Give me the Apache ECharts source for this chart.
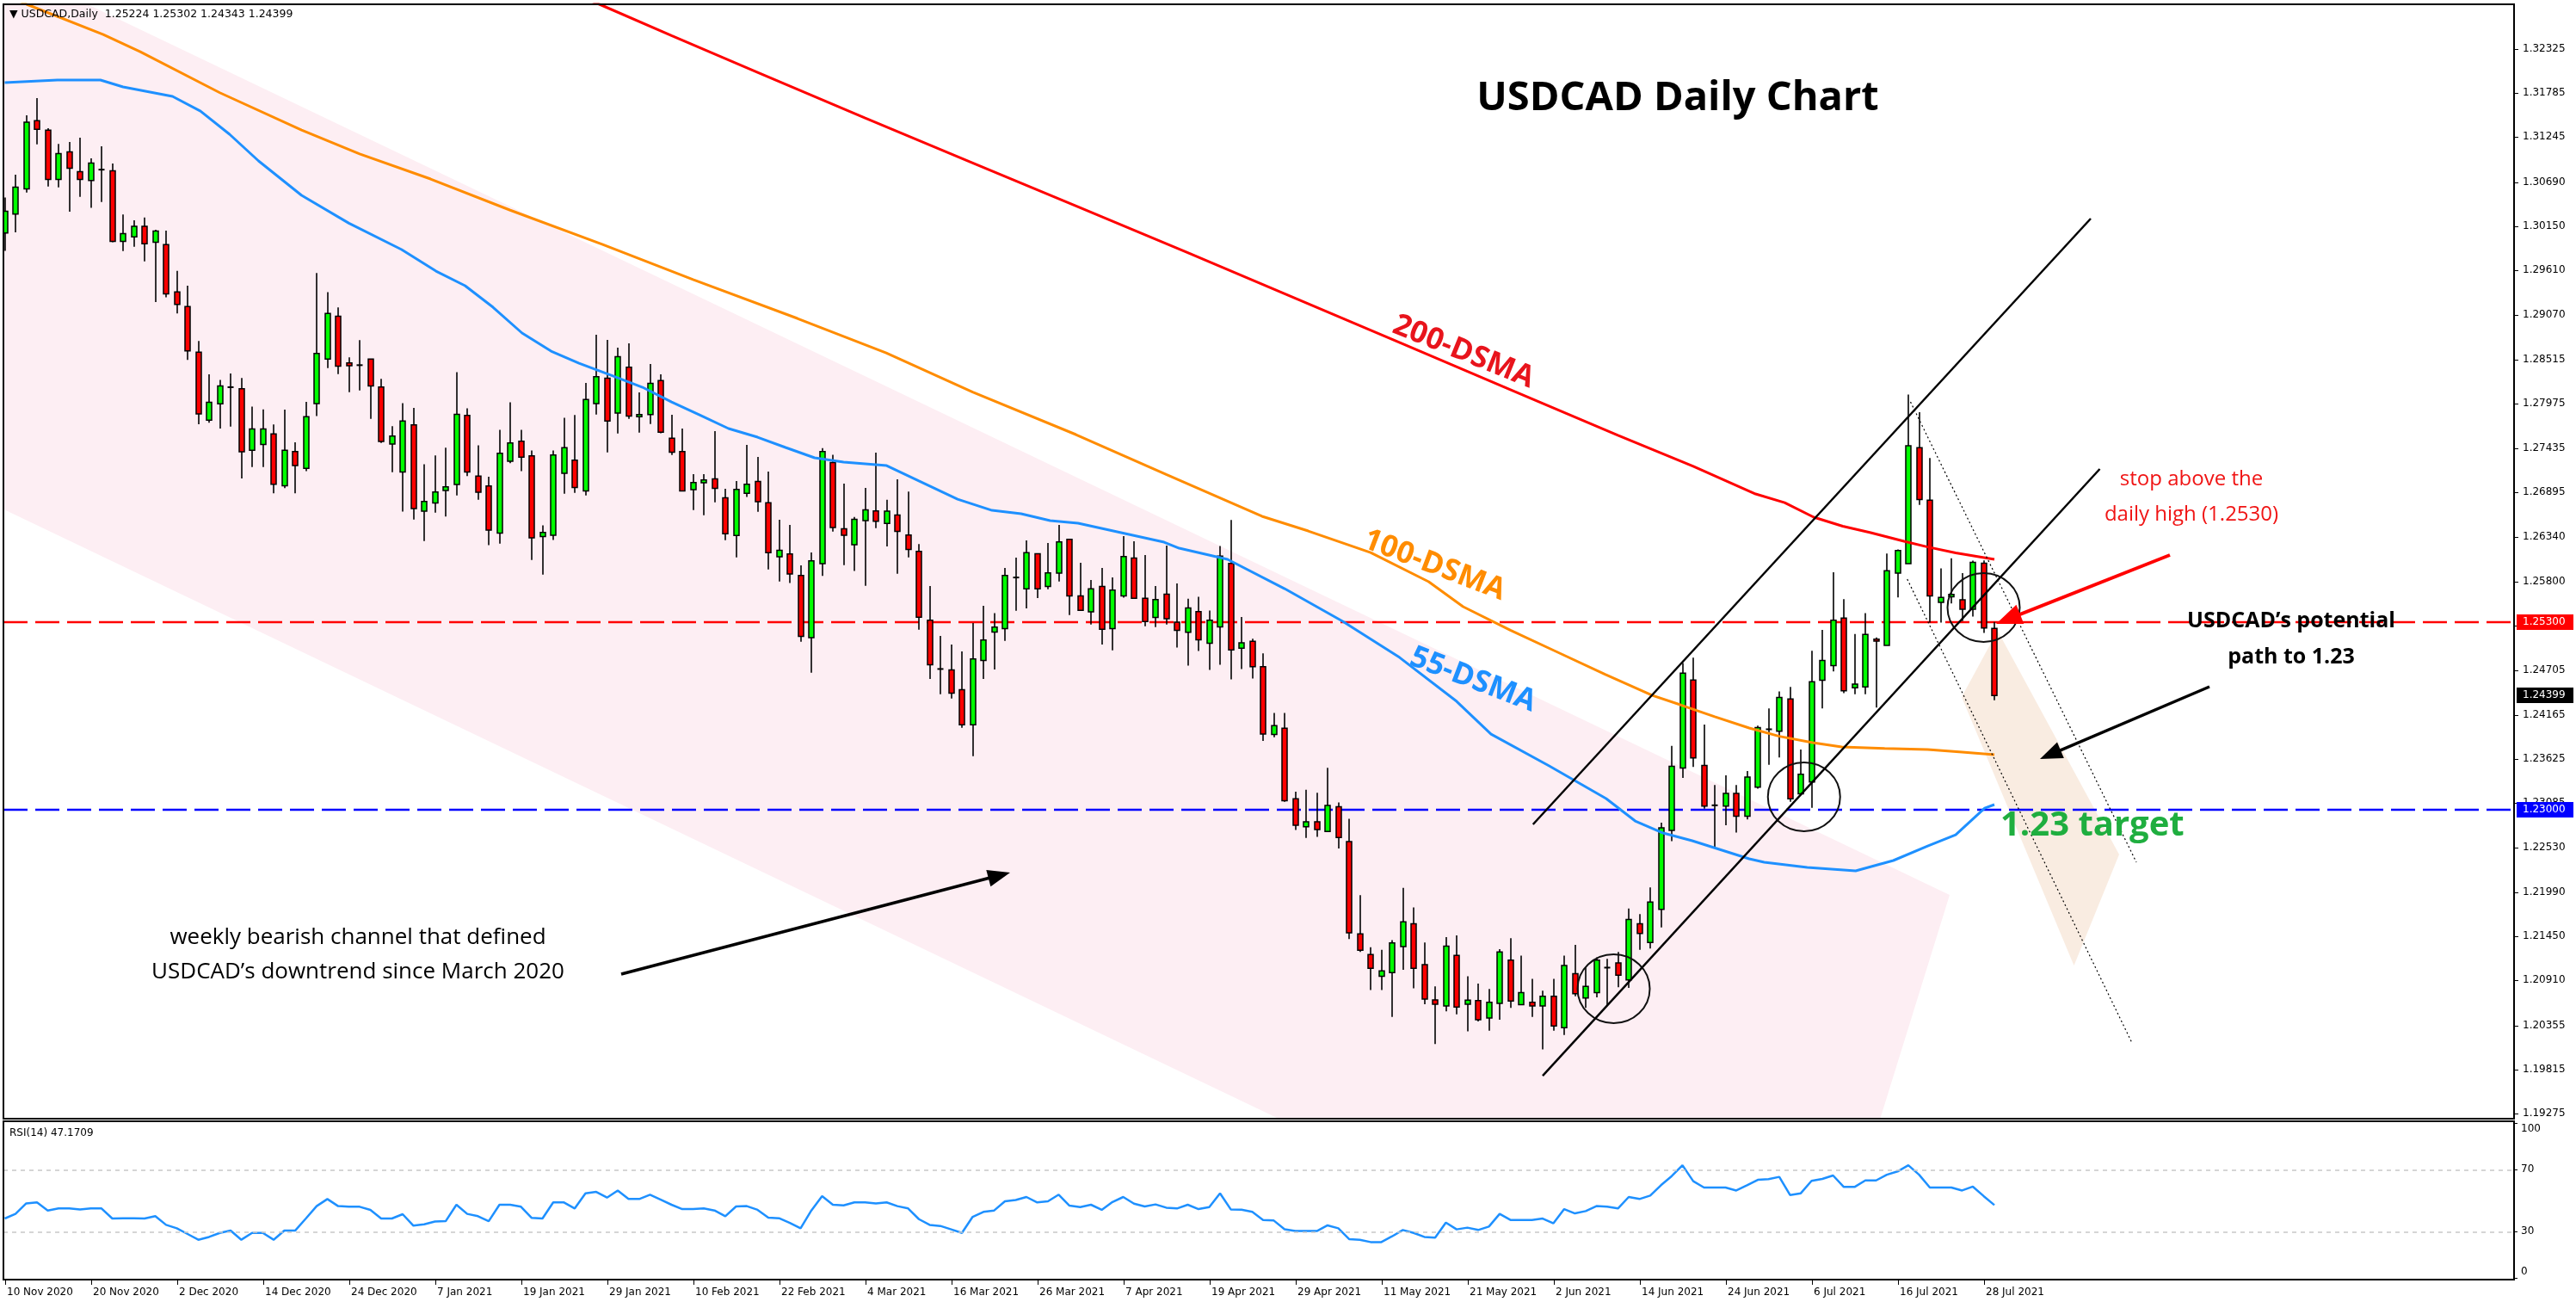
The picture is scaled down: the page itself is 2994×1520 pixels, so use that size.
<!DOCTYPE html>
<html><head><meta charset="utf-8">
<script src="https://cdn.jsdelivr.net/npm/echarts/dist/echarts.min.js"></script>
<style>html,body{margin:0;padding:0;background:#fff}#c{width:2994px;height:1520px}</style>
</head><body><div id="c"></div>
<script>
// ---------------- DATA ----------------
const dateTickLabels = ['10 Nov 2020','20 Nov 2020','2 Dec 2020','14 Dec 2020','24 Dec 2020','7 Jan 2021','19 Jan 2021','29 Jan 2021','10 Feb 2021','22 Feb 2021','4 Mar 2021','16 Mar 2021','26 Mar 2021','7 Apr 2021','19 Apr 2021','29 Apr 2021','11 May 2021','21 May 2021','2 Jun 2021','14 Jun 2021','24 Jun 2021','6 Jul 2021','16 Jul 2021','28 Jul 2021'];
const dateTickBars = [0,8,16,24,32,40,48,56,64,72,80,88,96,104,112,120,128,136,144,152,160,168,176,184];
const priceTicks = ['1.32325','1.31785','1.31245','1.30690','1.30150','1.29610','1.29070','1.28515','1.27975','1.27435','1.26895','1.26340','1.25800','1.25260','1.24705','1.24165','1.23625','1.23085','1.22530','1.21990','1.21450','1.20910','1.20355','1.19815','1.19275'];
const rsiTicks = [100,70,30,0];
const rsiLevels = [70,30];
const levelPrices = [1.2530, 1.2300];

// OHLC, one row per daily bar (bar 0 = 10 Nov 2020 ... bar 185 = 29 Jul 2021)
const opens = [1.30070,1.30302,1.30611,1.31447,1.31330,1.30727,1.31065,1.30822,1.30713,1.30847,
1.30833,1.29968,1.30022,1.30153,1.29957,1.29928,1.29347,1.29169,1.28609,1.27777,
1.27977,1.28180,1.28162,1.27407,1.27479,1.27606,1.26971,1.27392,1.27184,1.27978,
1.28524,1.29051,1.28478,1.28450,1.28524,1.28182,1.27482,1.27141,1.27718,1.26659,
1.26761,1.26913,1.26987,1.27834,1.27089,1.26969,1.26392,1.27271,1.27518,1.27338,
1.26350,1.26364,1.27124,1.27286,1.26909,1.27978,1.28291,1.27862,1.28425,1.27817,
1.27845,1.28260,1.27553,1.27391,1.26923,1.27008,1.27057,1.26825,1.26361,1.26878,
1.27025,1.26762,1.26100,1.26136,1.25872,1.25109,1.26016,1.27257,1.26445,1.26248,
1.26544,1.26663,1.26509,1.26614,1.26368,1.26168,1.25323,1.24725,1.24715,1.24472,
1.24040,1.24831,1.25179,1.25221,1.25847,1.25707,1.26139,1.25738,1.25900,1.26315,
1.25622,1.25425,1.25738,1.25221,1.25622,1.26086,1.25591,1.25358,1.25643,1.25300,
1.25176,1.25429,1.25042,1.25242,1.26019,1.24980,1.25065,1.24754,1.23923,1.23999,
1.23133,1.22791,1.22853,1.22734,1.23036,1.22609,1.21477,1.21224,1.20958,1.21002,
1.21322,1.21601,1.21100,1.20669,1.20594,1.21215,1.20616,1.20660,1.20447,1.20625,
1.21157,1.20611,1.20638,1.20594,1.20714,1.20327,1.20989,1.20691,1.20758,1.21064,
1.21122,1.20913,1.21601,1.21371,1.21779,1.22747,1.23511,1.24590,1.23542,1.23054,
1.23045,1.23200,1.22920,1.23275,1.23986,1.23961,1.24357,1.23194,1.23340,1.24586,
1.24767,1.25349,1.24495,1.24506,1.25091,1.25015,1.25901,1.26017,1.27438,1.26795,
1.25541,1.25610,1.25574,1.25458,1.26021,1.25224];
const highs = [1.30506,1.30785,1.31512,1.31723,1.31356,1.31163,1.31185,1.31239,1.30985,1.31134,
1.30923,1.30298,1.30226,1.30259,1.30110,1.30099,1.29605,1.29423,1.28747,1.28337,
1.28268,1.28348,1.28293,1.27941,1.27908,1.27723,1.27904,1.27505,1.27999,1.29579,
1.29346,1.29157,1.28545,1.28756,1.28524,1.28281,1.27701,1.27985,1.27926,1.27236,
1.27342,1.27437,1.28365,1.27922,1.27468,1.27082,1.27658,1.27996,1.27658,1.27405,
1.26487,1.27405,1.27806,1.27838,1.28232,1.28823,1.28759,1.28664,1.28717,1.28116,
1.28464,1.28337,1.27841,1.27672,1.27113,1.27113,1.27641,1.26934,1.27029,1.27472,
1.27324,1.27145,1.26554,1.26491,1.25995,1.26153,1.27433,1.27352,1.26997,1.26589,
1.26944,1.27377,1.26800,1.27050,1.26900,1.26256,1.25742,1.25130,1.25024,1.24940,
1.25288,1.25499,1.25411,1.25963,1.26090,1.26301,1.26139,1.26269,1.26491,1.26315,
1.26027,1.25816,1.25963,1.25847,1.26354,1.26290,1.26121,1.25742,1.26238,1.25775,
1.25588,1.25611,1.25442,1.26232,1.26552,1.25362,1.25096,1.24918,1.24185,1.24185,
1.23222,1.23244,1.23208,1.23515,1.23089,1.22889,1.21952,1.21313,1.21282,1.21402,
1.22041,1.21801,1.21371,1.20833,1.21437,1.21459,1.20958,1.20869,1.20802,1.21291,
1.21424,1.21211,1.20927,1.20780,1.20927,1.21211,1.21344,1.21069,1.21189,1.21171,
1.21255,1.21788,1.21721,1.22046,1.22840,1.23782,1.24798,1.24865,1.24044,1.23302,
1.23422,1.23302,1.23475,1.24030,1.24241,1.24451,1.24506,1.23739,1.24949,1.25203,
1.25912,1.25581,1.25153,1.25411,1.25113,1.26141,1.26192,1.28090,1.27874,1.27311,
1.25959,1.26083,1.25901,1.26054,1.26057,1.25302];
const lows = [1.29852,1.30077,1.30567,1.31156,1.30640,1.30629,1.30331,1.30513,1.30378,1.30451,
1.29957,1.29848,1.29902,1.29721,1.29223,1.29281,1.29085,1.28515,1.27726,1.27745,
1.27672,1.27697,1.27061,1.27200,1.27200,1.26880,1.26942,1.26880,1.27152,1.27827,
1.28414,1.28341,1.28119,1.28140,1.27792,1.27497,1.27138,1.26656,1.26558,1.26294,
1.26642,1.26593,1.26853,1.27089,1.26800,1.26244,1.26262,1.27247,1.27152,1.26062,
1.25882,1.26308,1.26874,1.26885,1.26853,1.27845,1.27381,1.27613,1.27792,1.27623,
1.27729,1.27616,1.27349,1.26902,1.26674,1.26610,1.26769,1.26304,1.26093,1.26835,
1.26653,1.25946,1.25798,1.25780,1.25059,1.24680,1.25865,1.26410,1.25998,1.25928,
1.25745,1.26452,1.26227,1.25893,1.26094,1.25207,1.24602,1.24416,1.24363,1.24004,
1.23656,1.24602,1.24718,1.25070,1.25439,1.25467,1.25594,1.25703,1.25798,1.25386,
1.25443,1.25270,1.25024,1.24954,1.25601,1.25591,1.25249,1.25239,1.25270,1.24989,
1.24767,1.24945,1.24714,1.24776,1.24598,1.24723,1.24607,1.23844,1.23888,1.23098,
1.22751,1.22653,1.22667,1.22734,1.22525,1.21415,1.21255,1.20789,1.20789,1.20460,
1.21038,1.20811,1.20616,1.20127,1.20527,1.20491,1.20283,1.20403,1.20292,1.20425,
1.20571,1.20611,1.20460,1.20061,1.20292,1.20238,1.20714,1.20571,1.20700,1.20594,
1.20824,1.20815,1.21282,1.21299,1.21557,1.22614,1.23391,1.23524,1.23013,1.22543,
1.22809,1.22720,1.22880,1.23257,1.23550,1.23641,1.23096,1.23194,1.23024,1.24241,
1.24695,1.24430,1.24415,1.24415,1.24252,1.25015,1.25603,1.26017,1.26737,1.25294,
1.25294,1.25530,1.25312,1.25367,1.25167,1.24343];
const closes = [1.30338,1.30633,1.31428,1.31341,1.30727,1.31043,1.30865,1.30727,1.30927,1.30847,
1.29968,1.30062,1.30153,1.29939,1.30095,1.29325,1.29194,1.28624,1.27853,1.27995,
1.28195,1.28180,1.27388,1.27668,1.27668,1.26989,1.27407,1.27218,1.27817,1.28594,
1.29083,1.28439,1.28443,1.28450,1.28196,1.27514,1.27581,1.27764,1.26691,1.26779,
1.26895,1.26958,1.27848,1.27141,1.26892,1.26427,1.27370,1.27497,1.27321,1.26332,
1.26399,1.27349,1.27437,1.26951,1.28028,1.28309,1.27764,1.28555,1.27827,1.27845,
1.28228,1.27627,1.27384,1.26909,1.27011,1.27043,1.26941,1.26382,1.26927,1.26990,
1.26776,1.26150,1.26181,1.25889,1.25126,1.26051,1.27391,1.26459,1.26364,1.26561,
1.26677,1.26536,1.26660,1.26413,1.26192,1.25359,1.24778,1.24725,1.24430,1.24040,
1.24849,1.25081,1.25239,1.25872,1.25847,1.26150,1.25707,1.25903,1.26283,1.25622,
1.25443,1.25707,1.25211,1.25692,1.26104,1.25591,1.25306,1.25576,1.25341,1.25198,
1.25473,1.25082,1.25322,1.26108,1.24958,1.25046,1.24754,1.23928,1.24030,1.23111,
1.22809,1.22853,1.22756,1.23053,1.22658,1.21490,1.21277,1.21055,1.21024,1.21366,
1.21624,1.21055,1.20678,1.20616,1.21326,1.20580,1.20665,1.20425,1.20638,1.21255,
1.20656,1.20758,1.20594,1.20714,1.20350,1.21091,1.20745,1.20833,1.21157,1.21064,
1.20971,1.21655,1.21482,1.21868,1.22778,1.23533,1.24674,1.23635,1.23045,1.23054,
1.23200,1.22920,1.23400,1.24008,1.23986,1.24375,1.23133,1.23434,1.24568,1.24829,
1.25323,1.24459,1.24539,1.25149,1.25066,1.25930,1.26177,1.27463,1.26802,1.25621,
1.25603,1.25639,1.25458,1.26032,1.25229,1.24399];

const rsi14 = [38.5,41.5,48.3,48.9,43.7,45.0,45.0,44.4,45.0,45.0,
38.5,38.7,38.7,38.5,40.0,34.4,32.2,28.5,24.8,26.6,
29.2,30.7,24.8,29.2,29.2,24.8,30.7,30.7,38.5,46.5,
51.1,46.5,46.1,46.1,44.1,38.5,38.5,41.3,33.9,34.8,
36.6,36.8,47.4,41.5,40.0,36.8,47.4,47.4,46.1,38.9,
38.5,48.9,48.9,45.0,54.8,55.7,52.0,56.6,51.1,51.1,
53.9,50.7,47.4,44.6,44.6,45.0,43.7,40.0,46.3,46.5,
44.1,39.1,38.7,35.7,32.2,43.7,52.9,47.4,47.0,48.9,
48.9,48.3,48.9,46.5,45.0,38.1,34.4,33.7,31.5,29.2,
39.6,42.8,43.7,49.6,50.5,52.4,48.9,49.6,53.9,46.8,
45.9,47.4,44.1,49.2,52.4,48.1,46.3,47.6,45.5,45.0,
47.4,44.6,45.9,54.8,44.4,44.2,42.8,37.6,37.2,31.6,
30.4,30.4,30.4,34.1,32.2,25.2,24.8,23.3,23.3,27.0,
31.1,29.2,26.6,26.1,35.9,31.5,32.6,31.1,33.3,41.5,
37.6,37.6,37.6,38.5,35.4,44.6,41.8,43.3,46.5,46.1,
45.0,52.4,51.1,53.3,60.0,65.9,72.9,62.6,58.5,58.5,
58.5,56.6,60.0,63.5,63.9,65.4,53.7,54.8,62.8,64.1,
66.3,58.9,58.9,63.1,63.1,66.8,68.9,72.9,66.8,58.5,
58.5,58.5,56.6,59.1,53.0,47.1709];

// moving averages: [bar position, price]
const sma55 = [[0,1.31914],[4.9,1.31945],[8.9,1.31945],[11,1.31861],[15.6,1.31745],[18.2,1.31565],[20.9,1.31281],[23.6,1.30954],[27.6,1.30532],[32,1.30190],[36.9,1.29867],[40.1,1.29603],[42.8,1.29424],[45.4,1.29160],[48.1,1.28844],[50.8,1.28622],[53.4,1.28474],[56.6,1.28316],[59.3,1.28179],[62,1.27999],[64.6,1.27841],[67.3,1.27673],[70,1.27567],[72.6,1.27441],[75.3,1.27314],[78,1.27261],[82,1.27219],[85,1.27030],[88.6,1.26807],[91.8,1.26670],[94.5,1.26628],[97.2,1.26544],[99.8,1.26512],[103.8,1.26396],[107.8,1.26280],[109.2,1.26206],[113.7,1.26069],[119,1.25710],[124.4,1.25310],[129.7,1.24866],[135,1.24328],[138.2,1.23927],[143.6,1.23537],[148.9,1.23136],[151.6,1.22862],[154.2,1.22714],[156.9,1.22620],[162.2,1.22398],[163.6,1.22356],[167.6,1.22292],[172.1,1.22250],[175.6,1.22377],[178.8,1.22556],[181.4,1.22693],[184.1,1.23020],[185,1.23063]];
const sma100 = [[0,1.33000],[2.04,1.32874],[9.16,1.32504],[12.6,1.32293],[20,1.31790],[27.6,1.31333],[33,1.31040],[39.6,1.30732],[47,1.30350],[55.6,1.29930],[64,1.29500],[73.7,1.29023],[81.96,1.28601],[90,1.28120],[99.6,1.27599],[108,1.27110],[116.9,1.26597],[121.2,1.26417],[127.0,1.26153],[132.4,1.25795],[135.6,1.25489],[140,1.25200],[144.4,1.24930],[148.8,1.24660],[153.2,1.24402],[155.8,1.24286],[159,1.24140],[162.2,1.24002],[165,1.23900],[168.1,1.23822],[170.8,1.23770],[174.8,1.23752],[178.8,1.23738],[182,1.23706],[185,1.23674]];
const sma200 = [[52,1.33050],[55.3,1.32874],[62,1.32490],[70,1.32040],[80,1.31480],[90,1.30930],[100,1.30380],[110,1.29830],[120,1.29270],[130,1.28710],[140,1.28150],[150,1.27590],[157,1.27210],[162.8,1.26871],[165.5,1.26765],[168.2,1.26586],[170.9,1.26475],[173.5,1.26396],[176.6,1.26291],[178.8,1.26221],[181.4,1.26149],[185,1.26069]];

// ---------------- ANNOTATION GEOMETRY (data space: bar, price) ----------------
const bearChannel = [[-8.44,1.33892],[180.84,1.21955],[171.9,1.18157],[135.2,1.18157],[-8.44,1.27208]];
const pathZone = [[185.3,1.25193],[181.96,1.24381],[192.4,1.21090],[196.6,1.22451]];
const upChannelTop = [[142.1,1.22820],[193.96,1.30247]];
const upChannelBottom = [[143.0,1.19739],[194.8,1.27177]];
const projTop = [[177.2,1.27999],[198.2,1.22356]];
const projBottom = [[176.9,1.25826],[197.8,1.20140]];
const circles = [[149.6,1.20805],[167.3,1.23157],[184.0,1.25478]];

// ---------------- CHART ----------------
const XMIN = -0.12, XMAX = 233.32;
const chart = echarts.init(document.getElementById('c'), null, {renderer:'canvas', width:2994, height:1520});
const FONT_AX = '12px "DejaVu Sans"';
const candleData = opens.map((o,i)=>[i,o,highs[i],lows[i],closes[i]]);

function polySeries(points, fill, z){
  return {type:'custom', xAxisIndex:0, yAxisIndex:0, z:z, silent:true, clip:true,
    data:[[points[0][0], points[0][1]]], encode:{x:0,y:1},
    renderItem(params, api){
      return {type:'polygon', shape:{points: points.map(p=>api.coord(p))}, style:{fill:fill, lineWidth:0}};
    }};
}
function segSeries(seg, color, width, dash, z){
  return {type:'line', xAxisIndex:0, yAxisIndex:0, data:seg, showSymbol:false, symbol:'none', silent:true, z:z,
    lineStyle:{color:color, width:width, type:dash||'solid'}, animation:false};
}
function maSeries(name, data, color){
  return {type:'line', name:name, xAxisIndex:0, yAxisIndex:0, data:data, showSymbol:false, symbol:'none', smooth:false, z:4, silent:true, lineStyle:{color:color, width:3}};
}

const option = {
  animation:false,
  backgroundColor:'#ffffff',
  grid:[
    {left:4, top:5, width:2918, height:1295, show:false},
    {left:4, top:1303, width:2918, height:184, show:false}
  ],
  xAxis:[
    {type:'value', gridIndex:0, min:XMIN, max:XMAX, show:false},
    {type:'value', gridIndex:1, min:XMIN, max:XMAX, show:false}
  ],
  yAxis:[
    {type:'value', gridIndex:0, min:1.19212, max:1.32874, show:false, scale:true},
    {type:'value', gridIndex:1, min:-0.94, max:101.3, show:false}
  ],
  series:[
    polySeries(bearChannel, '#fdeef3', 1),
    polySeries(pathZone, '#f9ece1', 1),
    {type:'custom', xAxisIndex:0, yAxisIndex:0, z:2, silent:true, clip:true,
      data: levelPrices.map(p=>[0,p]), encode:{x:0,y:1},
      renderItem(params, api){
        const cs = params.coordSys;
        const y = Math.round(api.coord([0, api.value(1)])[1]);
        return {type:'line', shape:{x1:cs.x, y1:y, x2:cs.x+cs.width, y2:y},
          style:{stroke: params.dataIndex===0?'#ff0000':'#0000ff', lineWidth:2.5, lineDash:[28,9]}};
      }},
    {type:'custom', name:'USDCAD', xAxisIndex:0, yAxisIndex:0, z:3, silent:true, clip:true,
      data: candleData, encode:{x:0, y:[1,2,3,4]},
      renderItem(params, api){
        const x = api.value(0), o = api.value(1), h = api.value(2), l = api.value(3), c = api.value(4);
        const pO = api.coord([x,o]), pC = api.coord([x,c]), pH = api.coord([x,h]), pL = api.coord([x,l]);
        const cx = Math.round(pO[0]);
        const top = Math.min(pO[1], pC[1]), bot = Math.max(pO[1], pC[1]);
        const ch = [{type:'line', shape:{x1:cx, y1:pH[1], x2:cx, y2:pL[1]}, style:{stroke:'#000', lineWidth:1.6}}];
        if (bot - top < 1.2) {
          ch.push({type:'line', shape:{x1:cx-3.5, y1:top, x2:cx+3.5, y2:top}, style:{stroke:'#000', lineWidth:2}});
        } else {
          ch.push({type:'rect', shape:{x:cx-3, y:top, width:6, height:bot-top},
            style:{fill: c>=o ? '#00ff00' : '#ff0000', stroke:'#000', lineWidth:1.5}});
        }
        return {type:'group', children:ch};
      }},
    maSeries('200-DSMA', sma200, '#ff0000'),
    maSeries('100-DSMA', sma100, '#ff8c00'),
    maSeries('55-DSMA', sma55, '#1e90ff'),
    segSeries(upChannelTop, '#000', 2.5, 'solid', 5),
    segSeries(upChannelBottom, '#000', 2.5, 'solid', 5),
    segSeries(projTop, '#000', 1.2, [2,3], 5),
    segSeries(projBottom, '#000', 1.2, [2,3], 5),
    {type:'custom', xAxisIndex:0, yAxisIndex:0, z:5, silent:true, clip:false,
      data: circles, encode:{x:0,y:1},
      renderItem(params, api){
        const p = api.coord([api.value(0), api.value(1)]);
        return {type:'ellipse', shape:{cx:p[0], cy:p[1], rx:42, ry:40}, style:{fill:'none', stroke:'#111', lineWidth:2}};
      }},
    {type:'custom', xAxisIndex:0, yAxisIndex:0, z:6, silent:true, clip:false,
      data: priceTicks.map(s=>[0, parseFloat(s)]), encode:{x:0,y:1},
      renderItem(params, api){
        const cs = params.coordSys, right = cs.x + cs.width;
        const y = Math.round(api.coord([0, api.value(1)])[1]);
        return {type:'group', children:[
          {type:'line', shape:{x1:right, y1:y+0.5, x2:right+5, y2:y+0.5}, style:{stroke:'#000', lineWidth:1}},
          {type:'text', x:right+10, y:y, style:{text: priceTicks[params.dataIndex], font:FONT_AX, fill:'#000', align:'left', verticalAlign:'middle', textAlign:'left', textVerticalAlign:'middle'}}
        ]};
      }},
    {type:'custom', xAxisIndex:0, yAxisIndex:0, z:7, silent:true, clip:false,
      data: [[0, levelPrices[0]],[0, levelPrices[1]],[0, closes[closes.length-1]]], encode:{x:0,y:1},
      renderItem(params, api){
        const cs = params.coordSys, right = cs.x + cs.width;
        const v = api.value(1);
        const y = Math.round(api.coord([0, v])[1]);
        const col = ['#ff0000','#0000ff','#000000'][params.dataIndex];
        return {type:'group', children:[
          {type:'rect', shape:{x:right+3, y:y-9, width:66, height:18}, style:{fill:col}},
          {type:'text', x:right+10, y:y, style:{text: v.toFixed(5), font:FONT_AX, fill:'#fff', align:'left', verticalAlign:'middle', textAlign:'left', textVerticalAlign:'middle'}}
        ]};
      }},
    {type:'line', name:'RSI(14)', xAxisIndex:1, yAxisIndex:1, data: rsi14.map((v,i)=>[i,v]), showSymbol:false, symbol:'none', z:4, silent:true,
      lineStyle:{color:'#1e90ff', width:2.5},
      markLine:{silent:true, symbol:'none', label:{show:false}, lineStyle:{color:'#c8c8c8', width:1.5, type:[5,5]},
        data: rsiLevels.map(v=>({yAxis:v}))}},
    {type:'custom', xAxisIndex:1, yAxisIndex:1, z:6, silent:true, clip:false,
      data: rsiTicks.map(v=>[0,v]), encode:{x:0,y:1},
      renderItem(params, api){
        const cs = params.coordSys, right = cs.x + cs.width;
        const v = api.value(1);
        const y = Math.round(api.coord([0, v])[1]);
        let ty = y, va = 'middle';
        if (v >= 100) { ty = y + 1; va = 'top'; }
        if (v <= 0) { ty = y - 1; va = 'bottom'; }
        return {type:'group', children:[
          {type:'line', shape:{x1:right, y1:y+0.5, x2:right+4, y2:y+0.5}, style:{stroke:'#000', lineWidth:1}},
          {type:'text', x:right+8, y:ty, style:{text: String(v), font:FONT_AX, fill:'#000', align:'left', verticalAlign:va, textAlign:'left', textVerticalAlign:va}}
        ]};
      }},
    {type:'custom', xAxisIndex:1, yAxisIndex:1, z:6, silent:true, clip:false,
      data: dateTickBars.map(b=>[b,0]), encode:{x:0,y:1},
      renderItem(params, api){
        const cs = params.coordSys, bottom = cs.y + cs.height;
        const x = Math.round(api.coord([api.value(0), 0])[0]);
        return {type:'group', children:[
          {type:'line', shape:{x1:x+0.5, y1:bottom, x2:x+0.5, y2:bottom+6}, style:{stroke:'#000', lineWidth:1}},
          {type:'text', x:x+2, y:bottom+15, style:{text: dateTickLabels[params.dataIndex], font:FONT_AX, fill:'#000', align:'left', verticalAlign:'middle', textAlign:'left', textVerticalAlign:'middle'}}
        ]};
      }}
  ]
};
chart.setOption(option);

// ---------------- TEXT, ARROWS, FRAMES ----------------
function txt(x, y, text, font, fill, align, rot){
  return {type:'text', x:x, y:y, rotation: rot||0, z:50, silent:true,
    style:{text:text, font:font, fill:fill, align:align||'center', verticalAlign:'middle', textAlign:align||'center', textVerticalAlign:'middle'}};
}
function arrow(x0,y0,x1,y1,color,w,hl,hw){
  const dx = x1-x0, dy = y1-y0, L = Math.hypot(dx,dy), ux = dx/L, uy = dy/L, nx = -uy, ny = ux;
  const bx = x1-ux*hl, by = y1-uy*hl;
  return [
    {type:'line', z:50, silent:true, shape:{x1:x0,y1:y0,x2:bx+ux*2,y2:by+uy*2}, style:{stroke:color, lineWidth:w}},
    {type:'polygon', z:50, silent:true, shape:{points:[[x1,y1],[bx+nx*hw/2,by+ny*hw/2],[bx-nx*hw/2,by-ny*hw/2]]}, style:{fill:color}}
  ];
}
const deg = Math.PI/180;
const OS = '"Open Sans", "DejaVu Sans", sans-serif';
const g = [];
g.push({type:'rect', z:60, silent:true, shape:{x:4, y:5, width:2918, height:1295}, style:{fill:null, stroke:'#000', lineWidth:2}});
g.push({type:'rect', z:60, silent:true, shape:{x:4, y:1303, width:2918, height:184}, style:{fill:null, stroke:'#000', lineWidth:2}});
g.push(txt(11, 17, '\u25BC USDCAD,Daily  ' + [opens[185],highs[185],lows[185],closes[185]].map(v=>v.toFixed(5)).join(' '), '12.5px "DejaVu Sans"', '#000', 'left'));
g.push(txt(11, 1317, 'RSI(14) ' + rsi14[rsi14.length-1].toFixed(4), '12px "DejaVu Sans"', '#000', 'left'));
g.push(txt(1950, 115, 'USDCAD Daily Chart', 'bold 47px ' + OS, '#000'));
g.push(txt(1701, 409, '200-DSMA', 'bold 35px ' + OS, '#e8141c', 'center', -22*deg));
g.push(txt(1667, 657, '100-DSMA', 'bold 35px ' + OS, '#ff8c00', 'center', -21*deg));
g.push(txt(1712, 790, '55-DSMA', 'bold 35px ' + OS, '#1e90ff', 'center', -21*deg));
g.push(txt(2547, 557, 'stop above the', '24px ' + OS, '#f01414'));
g.push(txt(2547, 598, 'daily high (1.2530)', '24px ' + OS, '#f01414'));
g.push(txt(2663, 722, 'USDCAD\u2019s potential', 'bold 25px ' + OS, '#000'));
g.push(txt(2663, 764, 'path to 1.23', 'bold 25px ' + OS, '#000'));
g.push(txt(2325, 960, '1.23 target', 'bold 40px ' + OS, '#1fae3f', 'left'));
g.push(txt(416, 1090, 'weekly bearish channel that defined', '26px ' + OS, '#000'));
g.push(txt(416, 1130, 'USDCAD\u2019s downtrend since March 2020', '26px ' + OS, '#000'));
g.push(...arrow(722,1132,1174,1014,'#000',3.5,26,20));
g.push(...arrow(2522,645,2320,725,'#ff0000',4,30,24));
g.push(...arrow(2568,798,2371,882,'#000',3.5,26,20));
chart.setOption({graphic:{elements:g}});
</script></body></html>
